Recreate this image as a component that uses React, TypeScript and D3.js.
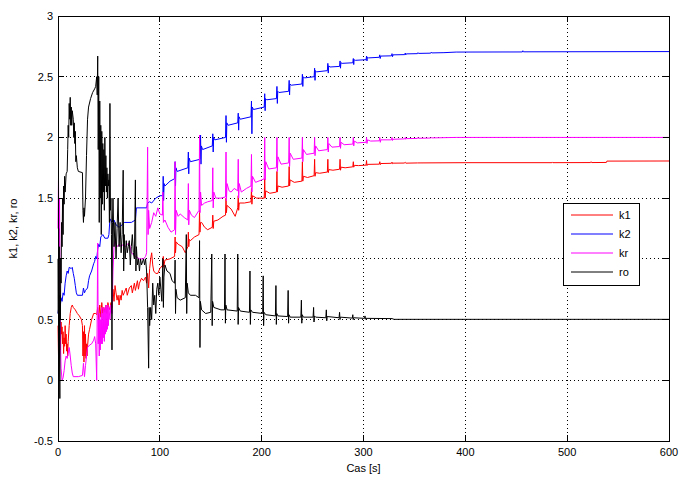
import * as d3 from 'd3';

type Pt = [number, number];

const xTicks = [0, 100, 200, 300, 400, 500, 600];
const yTicks = [-0.5, 0, 0.5, 1, 1.5, 2, 2.5, 3];
const seriesNames = ['k1', 'k2', 'kr', 'ro'];
const seriesColors = ['#ff0000', '#0000ff', '#ff00ff', '#000000'];

// k1 (red)
const k1: Pt[] = [
  [0, 0.45], [0.5, 0.2], [1, 0.5], [1.5, 0.3], [2, 0.42], [2.5, 0.25], [3, 0.48], [3.5, 0.38], [4, 0.44], [4.5, 0.3],
  [5, 0.4], [5.5, 0.22], [6, 0.35], [6.5, 0.28], [7, 0.45], [7.5, 0.3], [8, 0.38], [8.5, 0.24], [9, 0.3], [9.5, 0.2],
  [10, 0.32], [11, 0.45], [12, 0.55], [13, 0.6], [14, 0.62], [15, 0.6], [17, 0.58], [19, 0.55], [21, 0.53], [23, 0.5],
  [24, 0.45], [24.5, 0.2], [25, 0.4], [25.5, 0.15], [26, 0.45], [26.5, 0.2], [27, 0.38], [27.5, 0.18], [28, 0.3], [28.5, 0.2],
  [29, 0.28], [30, 0.38], [31, 0.42], [33, 0.5], [35, 0.55], [37, 0.55], [38, 0.54], [39, 0.6], [40, 0.5], [41, 0.62],
  [42, 0.52], [43, 0.64], [44, 0.55], [45, 0.6], [46, 0.56], [47, 0.62], [48, 0.55], [49, 0.64], [50, 0.6], [51, 0.58],
  [52, 0.64], [53, 0.6], [54, 0.75], [55, 0.65], [56, 0.78], [57, 0.72], [58, 0.66], [59, 0.7], [60, 0.62], [61, 0.7],
  [62, 0.66], [63, 0.74], [64, 0.7], [65, 0.72], [67, 0.76], [68, 0.7], [70, 0.76], [72, 0.78], [73, 0.72], [75, 0.8],
  [76, 0.74], [78, 0.82], [79, 0.75], [80, 0.8], [82, 0.84], [84, 0.82], [86, 0.85], [87, 0.8], [88, 0.88], [89, 0.76],
  [90, 0.92], [91, 1.0], [92, 1.05], [93, 0.95], [94, 0.9], [96, 0.88], [98, 0.88], [100, 0.92], [103, 0.95],
  [103.4, 1.02], [103.8, 0.93], [105, 0.99], [110, 1.0], [114.5, 1.02],
  [115, 1.18], [115.4, 1.05], [116, 1.14], [118, 1.12], [122, 1.1], [125, 1.05], [127.5, 1.1],
  [128, 1.22], [128.4, 1.1], [129, 1.16], [130, 1.15], [134, 1.18], [138.5, 1.2],
  [139, 1.4], [139.4, 1.22], [140, 1.3], [141, 1.3], [144, 1.26], [147, 1.24], [151.5, 1.26],
  [152, 1.36], [152.4, 1.25], [153, 1.31], [157, 1.32], [162, 1.35], [164.5, 1.36],
  [165, 1.5], [165.4, 1.38], [166, 1.44], [170, 1.41], [174, 1.35], [176.5, 1.42],
  [177, 1.52], [177.4, 1.4], [178, 1.46], [183, 1.46], [189.5, 1.47],
  [190, 1.58], [190.4, 1.45], [191, 1.52], [195, 1.5], [202.5, 1.5],
  [203, 1.66], [203.4, 1.5], [204, 1.56], [208, 1.54], [214.5, 1.55],
  [215, 1.72], [215.4, 1.55], [216, 1.6], [220, 1.59], [226.5, 1.6],
  [227, 1.76], [227.4, 1.6], [228, 1.65], [232, 1.63], [239.5, 1.64],
  [240, 1.8], [240.4, 1.64], [241, 1.68], [245, 1.67], [251.5, 1.685],
  [252, 1.82], [252.4, 1.68], [253, 1.71], [257, 1.705], [264.5, 1.715],
  [265, 1.82], [265.4, 1.71], [266, 1.735], [270, 1.73], [276.5, 1.738],
  [277, 1.82], [277.4, 1.73], [278, 1.755], [282, 1.75], [289.5, 1.758],
  [290, 1.8], [290.4, 1.755], [291, 1.77], [295, 1.768], [302.5, 1.772],
  [303, 1.81], [303.4, 1.768], [304, 1.778], [315.5, 1.78],
  [316, 1.8], [316.5, 1.776], [317, 1.785], [327.5, 1.787], [328, 1.797], [328.5, 1.784], [329, 1.788],
  [340, 1.789], [341, 1.795], [341.5, 1.788], [353, 1.79], [400, 1.792], [485, 1.792], [485.5, 1.798], [486, 1.792],
  [523, 1.793], [523.5, 1.8], [524, 1.793], [538.5, 1.794], [539, 1.805], [600, 1.806],
];

// k2 (blue)
const k2: Pt[] = [
  [0, 0.55], [1, 0.62], [2, 0.58], [3, 0.68], [4, 0.65], [5, 0.72], [6, 0.7], [7, 0.8], [8, 0.86], [9, 0.9],
  [10, 0.88], [11, 0.93], [13, 0.92], [14, 0.93], [15, 0.88], [16, 0.84], [17, 0.78], [18, 0.72], [19, 0.7], [24, 0.7],
  [25, 0.76], [26, 0.72], [27, 0.74], [29, 0.76], [30, 0.82], [31, 0.86], [33, 0.9], [35, 0.96], [36, 0.98], [37, 1.02],
  [38, 1.0], [39, 1.08], [40, 1.12], [41, 1.1], [42, 1.18], [44, 1.2], [46, 1.17], [49, 1.17], [50, 1.2], [51, 1.33],
  [53, 1.3], [55, 1.32], [57, 1.28], [60, 1.26], [63, 1.28], [65, 1.3], [72, 1.3], [76, 1.32], [77, 1.42], [87, 1.42],
  [88, 1.46], [90, 1.47], [92, 1.46], [96, 1.5], [100, 1.52], [103, 1.52],
  [103.3, 1.68], [103.7, 1.48], [104.2, 1.62], [105, 1.6], [110, 1.64], [114.5, 1.66],
  [115, 1.8], [115.4, 1.6], [115.8, 1.75], [117, 1.72], [127.5, 1.75],
  [128, 1.88], [128.4, 1.7], [128.8, 1.83], [130, 1.8], [139.5, 1.82],
  [140, 2.02], [140.4, 1.78], [140.8, 1.93], [142, 1.9], [151.5, 1.93],
  [152, 2.03], [152.4, 1.88], [152.8, 2.0], [154, 1.98], [164.5, 2.0],
  [165, 2.18], [165.4, 1.96], [165.8, 2.12], [167, 2.1], [176.5, 2.12],
  [177, 2.2], [177.4, 2.06], [177.8, 2.17], [179, 2.15], [189.5, 2.17],
  [190, 2.3], [190.4, 2.03], [190.8, 2.25], [192, 2.23], [202.5, 2.25],
  [203, 2.36], [203.4, 2.22], [203.8, 2.32], [205, 2.31], [214.5, 2.32],
  [215, 2.42], [215.4, 2.28], [215.8, 2.38], [217, 2.37], [226.5, 2.38],
  [227, 2.47], [227.4, 2.35], [227.8, 2.44], [229, 2.43], [239.5, 2.44],
  [240, 2.52], [240.4, 2.42], [240.8, 2.5], [242, 2.49], [251.5, 2.5],
  [252, 2.57], [252.4, 2.47], [252.8, 2.55], [254, 2.54], [264.5, 2.55],
  [265, 2.61], [265.4, 2.53], [265.8, 2.59], [267, 2.58], [276.5, 2.585],
  [277, 2.63], [277.4, 2.57], [277.8, 2.615], [279, 2.61], [289.5, 2.615],
  [290, 2.65], [290.4, 2.6], [290.8, 2.64], [292, 2.635], [302.5, 2.64],
  [303, 2.67], [303.4, 2.63], [303.8, 2.66], [305, 2.655], [315.5, 2.66],
  [316, 2.68], [316.4, 2.65], [317, 2.67], [327.5, 2.672],
  [328, 2.69], [328.5, 2.665], [329, 2.68], [340.5, 2.682],
  [341, 2.695], [341.5, 2.68], [342, 2.688], [353, 2.69], [353.5, 2.698], [354, 2.692],
  [366, 2.694], [366.5, 2.702], [367, 2.696], [379, 2.698], [391, 2.703], [456, 2.704], [456.5, 2.714], [457, 2.705], [600, 2.707],
];

// kr (magenta)
const kr: Pt[] = [
  [0, 1.25], [0.5, 1.67], [1, 1.1], [1.5, 1.5], [2, 0.8], [2.5, 0.3], [3, 0.1], [4, 0], [5, 0.02], [6, 0.08],
  [7, 0.16], [8, 0.2], [9, 0.18], [10, 0.22], [11, 0.27], [12, 0.2], [13, 0.12], [14, 0.06], [15, 0.03], [20, 0.03],
  [24, 0.04], [25, 0.14], [26, 0.03], [27, 0.12], [28, 0.2], [29, 0.27], [31, 0.29], [33, 0.3], [35, 0.33], [36, 0.36],
  [37, 0.3], [38, 0], [39, 1.13], [39.5, 0.3], [40, 0.5], [40.5, 0.2], [41, 0.55], [41.5, 0.25], [42, 0.5], [42.5, 0.3],
  [43, 0.6], [43.5, 0.3], [44, 0.55], [44.5, 0.35], [45, 0.6], [45.5, 0.32], [46, 0.58], [46.5, 0.38], [47, 0.62], [47.5, 0.4],
  [48, 0.6], [48.5, 0.42], [49, 0.62], [49.5, 0.45], [50, 0.6], [51, 0.5], [52, 0.62], [53, 0.55], [54, 0.9], [55, 1.1],
  [56, 1.15], [58, 1.1], [60, 1.12], [62, 1.1], [64, 1.12], [66, 1.1], [68, 1.12], [70, 1.13], [72, 1.05], [76, 1.02],
  [80, 1.0], [84, 1.0], [86, 1.02], [87, 1.05], [88, 1.92], [88.5, 1.2], [89, 1.4], [90, 1.25], [92, 1.3], [94, 1.38],
  [96, 1.35], [98, 1.42], [100, 1.37],
  [102.5, 1.36], [103, 1.55], [103.5, 1.3], [105, 1.32], [108, 1.26], [111, 1.22], [114.5, 1.24],
  [115, 1.8], [115.4, 1.2], [116, 1.4], [118, 1.35], [120, 1.37], [124, 1.34], [127.5, 1.32],
  [128, 1.62], [128.4, 1.28], [129, 1.4], [131, 1.36], [134, 1.34], [138.5, 1.4],
  [139, 2.02], [139.4, 1.38], [140, 1.55], [141, 1.44], [144, 1.46], [147, 1.47], [151.5, 1.48],
  [152, 1.75], [152.4, 1.42], [153, 1.55], [155, 1.5], [160, 1.5], [164.5, 1.51],
  [165, 1.88], [165.4, 1.48], [166, 1.62], [168, 1.56], [170, 1.55], [173, 1.58], [176.5, 1.56],
  [177, 1.82], [177.4, 1.5], [178, 1.62], [180, 1.55], [185, 1.58], [189.5, 1.6],
  [190, 1.86], [190.4, 1.55], [191, 1.68], [194, 1.63], [200, 1.65], [202.5, 1.66],
  [203, 2.0], [203.4, 1.65], [204, 1.8], [207, 1.74], [214.5, 1.75],
  [215, 2.0], [215.4, 1.72], [216, 1.84], [219, 1.78], [226.5, 1.79],
  [227, 2.0], [227.4, 1.76], [228, 1.87], [231, 1.82], [239.5, 1.83],
  [240, 2.0], [240.4, 1.8], [241, 1.9], [244, 1.86], [251.5, 1.87],
  [252, 2.0], [252.4, 1.85], [253, 1.93], [256, 1.89], [264.5, 1.9],
  [265, 2.0], [265.4, 1.88], [266, 1.95], [269, 1.92], [276.5, 1.925],
  [277, 2.0], [277.4, 1.91], [278, 1.96], [281, 1.94], [289.5, 1.945],
  [290, 2.0], [290.4, 1.93], [291, 1.97], [294, 1.955], [302.5, 1.96],
  [303, 2.0], [303.4, 1.95], [304, 1.98], [307, 1.97], [315.5, 1.972],
  [316, 2.0], [316.5, 1.96], [317, 1.98], [327.5, 1.98],
  [328, 2.0], [328.5, 1.975], [329, 1.985], [340.5, 1.988], [341, 2.0], [341.5, 1.985], [342, 1.99],
  [353, 1.992], [353.5, 2.0], [354, 1.993], [366, 1.995], [366.5, 2.0], [367, 1.996], [379, 1.998], [391, 2.0], [600, 2.0],
];

// ro (black)
const ro: Pt[] = [
  [0, 1.0], [0.3, 0.55], [0.6, 1.25], [0.9, 0.4], [1.2, 1.1], [1.5, 0.2], [1.8, -0.15], [2.1, 0.7], [2.4, 0.5], [2.7, 1.0],
  [3, 0.8], [3.5, 1.3], [4, 1.1], [4.5, 1.5], [5, 1.2], [5.5, 1.6], [6, 1.45], [6.5, 1.68], [7, 1.55], [8, 1.7],
  [9, 1.72], [9.5, 1.9], [10, 2.1], [10.5, 2.0], [11, 2.28], [11.5, 2.15], [12, 2.33], [12.5, 2.1], [13, 2.25], [13.5, 2.1],
  [14, 2.22], [15, 2.15], [15.5, 2.0], [16, 2.12], [16.5, 1.95], [17, 2.05], [17.5, 1.8], [18, 1.85], [19, 1.75], [20, 1.72],
  [24, 1.71], [24.5, 1.4], [25, 1.3], [25.5, 1.42], [26, 1.35], [27, 1.5], [28, 1.85], [29, 2.15], [30, 2.25], [32, 2.32],
  [34, 2.37], [36, 2.4], [37, 2.42], [38, 2.5], [38.5, 2.35], [39, 2.67], [39.5, 1.9], [40, 2.5], [40.5, 1.3], [41, 2.3],
  [41.5, 1.5], [42, 2.1], [42.5, 1.2], [43, 2.05], [43.5, 1.45], [44, 1.95], [44.5, 1.55], [45, 1.9], [45.5, 1.4], [46, 2.0],
  [46.5, 1.6], [47, 1.85], [47.5, 1.55], [48, 1.75], [48.5, 1.5], [49, 1.7], [49.5, 1.6], [50, 1.65], [50.5, 1.3], [51, 2.28],
  [51.5, 1.4], [52, 1.5], [52.5, 1.2], [53, 0.25], [53.5, 1.3], [54, 1.5], [55, 1.1], [56, 1.3], [57, 1.0], [58, 1.25],
  [59, 1.5], [60, 1.1], [61, 1.3], [62, 1.05], [63, 1.2], [64, 1.73], [64.5, 0.9], [65, 1.2], [66, 1.0], [67, 1.15],
  [68, 1.05], [69, 1.1], [70, 1.15], [71, 0.95], [72, 1.1], [73, 1.2], [74, 1.05], [75, 1.0], [76, 1.65], [76.5, 0.9],
  [77, 1.1], [78, 0.95], [79, 1.0], [80, 0.9], [81, 1.0], [82, 0.95], [84, 1.0], [85, 0.95], [86, 1.0], [87, 0.9],
  [88, 0.6], [89, 0.1], [89.5, 0.6], [90, 0.45], [91, 0.6], [92, 0.5], [93, 0.8], [94, 0.62], [95, 0.7], [96, 0.55],
  [97, 0.75], [98, 0.8], [99, 0.7], [100, 0.85], [101, 0.75], [102, 0.65], [103, 1.0], [103.5, 0.6], [104, 0.85], [105, 0.95],
  [107, 0.9], [110, 0.88], [112, 0.82], [114.5, 0.8], [115, 0.99], [115.4, 0.55], [115.8, 0.75], [117, 0.68], [120, 0.66], [125, 0.68],
  [126, 1.2], [126.4, 0.55], [126.8, 0.8], [128, 0.72], [130, 0.7], [135, 0.7], [138.5, 0.68], [139, 1.15], [139.4, 0.27], [139.8, 0.65],
  [141, 0.58], [145, 0.55], [150, 0.56], [151, 1.04], [151.4, 0.45], [151.8, 0.65], [153, 0.6], [160, 0.58], [163.5, 0.58], [164, 1.04],
  [164.4, 0.47], [164.8, 0.62], [166, 0.58], [176, 0.57], [176.5, 1.04], [176.9, 0.46], [177.3, 0.6], [179, 0.57], [188, 0.56], [188.5, 0.9],
  [188.9, 0.46], [189.3, 0.58], [191, 0.56], [201, 0.55], [201.5, 0.86], [201.9, 0.45], [202.3, 0.56], [204, 0.54], [213.5, 0.53], [214, 0.78],
  [214.4, 0.46], [214.8, 0.55], [216, 0.53], [225.5, 0.525], [226, 0.74], [226.4, 0.47], [226.8, 0.54], [228, 0.52], [238.5, 0.52], [239, 0.66],
  [239.4, 0.47], [239.8, 0.54], [241, 0.52], [250.5, 0.52], [251, 0.6], [251.4, 0.48], [251.8, 0.53], [253, 0.52], [263, 0.515], [263.5, 0.58],
  [263.9, 0.49], [264.3, 0.525], [276, 0.515], [276.5, 0.56], [276.9, 0.5], [277.3, 0.52], [289, 0.512], [289.5, 0.54], [289.9, 0.5], [290.3, 0.515],
  [301, 0.51], [301.5, 0.53], [301.9, 0.503], [302.3, 0.51], [328, 0.508], [330, 0.502], [600, 0.502],
];

const allSeries = [k1, k2, kr, ro];

const W = 682;
const H = 479;
const left = 58;
const right = 669;
const top = 16;
const bottom = 441;

export default function App() {
  const x = d3.scaleLinear().domain([0, 600]).range([left, right]);
  const y = d3.scaleLinear().domain([-0.5, 3]).range([bottom, top]);
  const line = d3.line<Pt>().x(d => x(d[0])).y(d => y(d[1]));
  const font = '"Liberation Sans", Arial, sans-serif';
  const tick = 6;

  // legend box
  const lg = { x: 563, y: 203, w: 76, h: 82 };

  return (
    <svg width={W} height={H} style={{ position: 'absolute', left: 0, top: 0, background: '#fff' }}>
      <rect x={0} y={0} width={W} height={H} fill="#fff" />
      {/* grid */}
      <g stroke="#000" strokeWidth={1} strokeDasharray="1,3" shapeRendering="crispEdges">
        {xTicks.slice(1, -1).map(t => (
          <line key={'gx' + t} x1={x(t)} x2={x(t)} y1={top} y2={bottom} />
        ))}
        {yTicks.slice(1, -1).map(t => (
          <line key={'gy' + t} x1={left} x2={right} y1={y(t)} y2={y(t)} />
        ))}
      </g>
      {/* series */}
      <g fill="none" strokeWidth={1} strokeLinejoin="round">
        {allSeries.map((s, i) => (
          <path key={seriesNames[i]} d={line(s) || ''} stroke={seriesColors[i]} />
        ))}
      </g>
      {/* frame and ticks */}
      <g stroke="#000" strokeWidth={1} shapeRendering="crispEdges">
        <rect x={left} y={top} width={right - left} height={bottom - top} fill="none" />
        {xTicks.map(t => (
          <g key={'tx' + t}>
            <line x1={x(t)} x2={x(t)} y1={bottom} y2={bottom - tick} />
            <line x1={x(t)} x2={x(t)} y1={top} y2={top + tick} />
          </g>
        ))}
        {yTicks.map(t => (
          <g key={'ty' + t}>
            <line x1={left} x2={left + tick} y1={y(t)} y2={y(t)} />
            <line x1={right} x2={right - tick} y1={y(t)} y2={y(t)} />
          </g>
        ))}
      </g>
      <g fontFamily={font} fontSize={11} fill="#000">
        {xTicks.map(t => (
          <text key={'lx' + t} x={x(t)} y={bottom + 15} textAnchor="middle">{t}</text>
        ))}
        {yTicks.map(t => (
          <text key={'ly' + t} x={left - 5} y={y(t) + 4} textAnchor="end">{String(t)}</text>
        ))}
        <text x={(left + right) / 2} y={472} textAnchor="middle">Cas [s]</text>
        <text transform={`translate(17,${(top + bottom) / 2}) rotate(-90)`} textAnchor="middle">k1, k2, kr, ro</text>
      </g>
      {/* legend */}
      <g fontFamily={font} fontSize={11}>
        <rect x={lg.x} y={lg.y} width={lg.w} height={lg.h} fill="#fff" stroke="#000" strokeWidth={1} shapeRendering="crispEdges" />
        {seriesNames.map((n, i) => (
          <g key={'lg' + n}>
            <line x1={lg.x + 8} x2={lg.x + 50} y1={lg.y + 12 + i * 19} y2={lg.y + 12 + i * 19} stroke={seriesColors[i]} strokeWidth={1} />
            <text x={lg.x + 56} y={lg.y + 16 + i * 19} fill="#000">{n}</text>
          </g>
        ))}
      </g>
    </svg>
  );
}
